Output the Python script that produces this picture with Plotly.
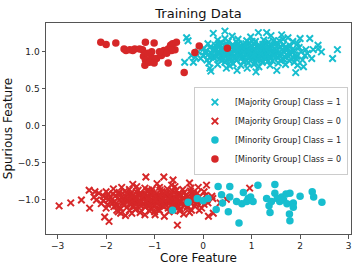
import plotly.graph_objects as go

# ---------------- data ----------------
majority_1 = [
    (0.12,0.85),(0.30,0.83),(0.45,0.86),(0.62,0.84),(0.78,0.82),(0.93,0.85),(1.05,0.83),(1.22,0.86),(1.38,0.82),(1.55,0.85),(1.70,0.83),(1.88,0.86),(0.55,0.81),(1.15,0.80),(1.95,0.82),
    (-0.05,0.91),(0.08,0.89),(0.22,0.92),(0.34,0.90),(0.47,0.88),(0.58,0.91),(0.69,0.89),(0.80,0.92),(0.90,0.88),(1.00,0.90),(1.10,0.92),(1.20,0.89),(1.31,0.91),(1.43,0.88),(1.55,0.92),(1.66,0.90),(1.78,0.88),(1.92,0.91),(2.05,0.89),
    (0.00,0.95),(0.10,0.96),(0.20,0.94),(0.29,0.97),(0.38,0.95),(0.46,0.93),(0.54,0.96),(0.62,0.94),(0.70,0.97),(0.77,0.95),(0.84,0.93),(0.91,0.96),(0.98,0.94),(1.05,0.97),(1.13,0.95),(1.21,0.93),(1.29,0.96),(1.38,0.94),(1.47,0.97),(1.57,0.95),(1.68,0.93),(1.80,0.96),(1.93,0.94),(2.10,0.95),
    (-0.10,1.00),(0.05,1.01),(0.15,0.99),(0.25,1.02),(0.34,1.00),(0.42,0.98),(0.50,1.01),(0.57,0.99),(0.64,1.02),(0.71,1.00),(0.78,0.98),(0.85,1.01),(0.92,0.99),(0.99,1.02),(1.06,1.00),(1.13,0.98),(1.20,1.01),(1.28,0.99),(1.36,1.02),(1.45,1.00),(1.55,0.98),(1.65,1.01),(1.76,0.99),(1.88,1.02),(2.02,1.00),(2.15,0.98),
    (0.02,1.05),(0.14,1.06),(0.24,1.04),(0.33,1.07),(0.42,1.05),(0.50,1.03),(0.58,1.06),(0.66,1.04),(0.74,1.07),(0.82,1.05),(0.89,1.03),(0.96,1.06),(1.04,1.04),(1.12,1.07),(1.20,1.05),(1.29,1.03),(1.38,1.06),(1.48,1.04),(1.59,1.07),(1.71,1.05),(1.84,1.03),(1.98,1.06),
    (0.10,1.11),(0.25,1.09),(0.38,1.12),(0.50,1.10),(0.62,1.08),(0.73,1.11),(0.84,1.09),(0.95,1.12),(1.06,1.10),(1.17,1.08),(1.28,1.11),(1.40,1.09),(1.53,1.12),(1.66,1.10),(1.80,1.08),(1.95,1.11),
    (0.30,1.16),(0.52,1.14),(0.72,1.17),(0.90,1.15),(1.08,1.14),(1.25,1.16),(1.45,1.15),(1.65,1.17),(1.85,1.14),
    (0.60,1.21),(0.98,1.20),(1.40,1.22),(1.75,1.19),
    (0.45,0.99),(0.52,1.04),(0.60,0.97),(0.67,1.03),(0.74,0.96),(0.81,1.02),(0.87,0.97),(0.94,1.03),(1.01,0.97),(1.08,1.03),(1.16,0.96),(1.24,1.04),
    (0.40,1.02),(0.55,0.92),(0.69,1.07),(0.86,1.08),(1.02,0.92),(1.17,1.02),(1.32,0.97),(1.50,1.02),(0.30,0.99),(0.20,1.03),(1.62,0.97),(1.72,1.02),
    (0.27,0.93),(0.36,1.04),(0.44,0.95),(0.48,1.08),(0.56,1.00),(0.61,1.10),(0.65,0.91),(0.72,1.03),(0.76,0.93),(0.80,1.07),
    (0.84,0.99),(0.88,1.11),(0.92,0.93),(0.97,1.00),(1.00,1.07),(1.04,0.95),(1.09,1.01),(1.11,0.89),(1.15,1.08),(1.19,0.97),
    (1.23,1.10),(1.27,0.92),(1.31,1.05),(1.35,0.99),(1.39,0.91),(1.42,1.07),(1.46,0.94),(1.52,1.08),(1.58,1.00),(1.63,0.91),
    (1.69,1.06),(1.74,0.95),(1.82,1.00),(1.90,0.96),(0.32,1.11),(0.16,0.93),(0.06,0.98),(0.40,0.89),(0.58,0.87),(0.83,0.87),
    (1.07,0.86),(1.33,0.87),(1.60,0.88),(1.86,0.92),(2.12,1.03),(0.69,1.13),(1.01,1.14),(1.35,1.13),(1.57,1.15),(0.45,1.18),
    (-0.34,1.19),(-0.31,1.15),(-0.38,0.86),(-0.20,0.86),(-0.24,0.95),(-0.16,0.93),(0.14,0.78),(0.16,0.74),(0.48,0.78),(0.45,1.28),
    (0.21,1.25),(0.70,0.75),(0.91,0.78),(1.09,0.73),(1.14,1.26),(1.31,1.26),(1.52,0.75),(1.62,1.23),(1.91,0.72),(2.20,1.18),
    (2.37,1.09),(2.44,1.00),(2.67,0.91),(2.77,1.03),(2.00,1.18),(2.24,0.91),(2.27,1.03),(2.37,1.04),(2.07,0.80),
]

majority_0 = [
    (-1.85,-0.85),(-1.68,-0.83),(-1.52,-0.86),(-1.37,-0.82),(-1.20,-0.84),(-1.05,-0.86),(-0.90,-0.83),(-0.74,-0.85),(-0.58,-0.82),(-0.42,-0.86),(-0.25,-0.84),(-0.10,-0.83),(-1.45,-0.79),(-0.95,-0.78),(-0.65,-0.80),
    (-2.15,-0.91),(-2.00,-0.89),(-1.86,-0.92),(-1.73,-0.90),(-1.61,-0.88),(-1.49,-0.91),(-1.38,-0.89),(-1.27,-0.92),(-1.16,-0.88),(-1.06,-0.90),(-0.96,-0.92),(-0.85,-0.89),(-0.74,-0.91),(-0.63,-0.88),(-0.51,-0.92),(-0.39,-0.90),(-0.26,-0.88),(-0.12,-0.91),(0.02,-0.89),
    (-2.05,-0.95),(-1.92,-0.96),(-1.80,-0.94),(-1.69,-0.97),(-1.59,-0.95),(-1.50,-0.93),(-1.41,-0.96),(-1.33,-0.94),(-1.25,-0.97),(-1.17,-0.95),(-1.09,-0.93),(-1.01,-0.96),(-0.93,-0.94),(-0.85,-0.97),(-0.77,-0.95),(-0.69,-0.93),(-0.60,-0.96),(-0.51,-0.94),(-0.41,-0.97),(-0.31,-0.95),(-0.20,-0.93),(-0.08,-0.96),(0.05,-0.94),(0.18,-0.95),
    (-2.20,-1.00),(-2.06,-1.01),(-1.94,-0.99),(-1.83,-1.02),(-1.73,-1.00),(-1.64,-0.98),(-1.55,-1.01),(-1.47,-0.99),(-1.39,-1.02),(-1.31,-1.00),(-1.23,-0.98),(-1.15,-1.01),(-1.07,-0.99),(-0.99,-1.02),(-0.91,-1.00),(-0.83,-0.98),(-0.75,-1.01),(-0.67,-0.99),(-0.58,-1.02),(-0.49,-1.00),(-0.39,-0.98),(-0.28,-1.01),(-0.17,-0.99),(-0.05,-1.02),(0.08,-1.00),(0.20,-0.98),
    (-2.10,-1.05),(-1.97,-1.06),(-1.86,-1.04),(-1.76,-1.07),(-1.66,-1.05),(-1.57,-1.03),(-1.48,-1.06),(-1.39,-1.04),(-1.30,-1.07),(-1.21,-1.05),(-1.13,-1.03),(-1.05,-1.06),(-0.96,-1.04),(-0.87,-1.07),(-0.78,-1.05),(-0.69,-1.03),(-0.59,-1.06),(-0.48,-1.04),(-0.37,-1.07),(-0.25,-1.05),(-0.12,-1.03),(0.02,-1.06),
    (-2.00,-1.11),(-1.84,-1.09),(-1.70,-1.12),(-1.57,-1.10),(-1.44,-1.08),(-1.32,-1.11),(-1.20,-1.09),(-1.08,-1.12),(-0.96,-1.10),(-0.84,-1.08),(-0.72,-1.11),(-0.60,-1.09),(-0.47,-1.12),(-0.33,-1.10),(-0.18,-1.08),(-0.03,-1.11),
    (-1.75,-1.16),(-1.52,-1.14),(-1.30,-1.17),(-1.10,-1.15),(-0.90,-1.14),(-0.70,-1.16),(-0.48,-1.15),(-0.28,-1.17),(-0.08,-1.14),
    (-1.60,-1.21),(-1.20,-1.20),(-0.80,-1.22),(-0.40,-1.19),
    (-1.40,-0.99),(-1.32,-1.04),(-1.25,-0.97),(-1.18,-1.03),(-1.11,-0.96),(-1.04,-1.02),(-0.97,-0.97),(-0.90,-1.03),(-0.83,-0.97),(-0.76,-1.03),(-0.69,-0.96),(-0.62,-1.04),
    (-1.45,-1.02),(-1.30,-0.92),(-1.16,-1.07),(-0.99,-1.08),(-0.83,-0.92),(-0.68,-1.02),(-0.53,-0.97),(-0.35,-1.02),(-1.55,-0.99),(-1.65,-1.03),(-0.22,-0.97),(-0.12,-1.02),
    (-1.73,-0.93),(-1.64,-1.07),(-1.58,-0.91),(-1.52,-1.05),(-1.46,-0.95),(-1.42,-1.09),(-1.36,-0.97),(-1.28,-1.03),(-1.22,-0.93),(-1.19,-1.10),
    (-1.13,-0.99),(-1.09,-1.07),(-1.03,-0.92),(-0.98,-1.00),(-0.94,-1.13),(-0.88,-0.95),(-0.86,-1.02),(-0.80,-1.09),(-0.77,-0.90),(-0.72,-0.99),
    (-0.66,-1.08),(-0.64,-0.92),(-0.56,-1.00),(-0.54,-1.10),(-0.46,-0.93),(-0.43,-1.05),(-0.36,-0.94),(-0.32,-1.08),(-0.24,-1.00),(-0.15,-1.06),
    (-1.90,-1.03),(-1.80,-1.08),(-2.00,-0.97),(-1.95,-0.92),(-1.12,-0.87),(-1.34,-0.87),(-0.89,-0.87),(-0.55,-0.87),(-1.00,-1.16),(-1.40,-1.13),
    (-0.62,-1.14),(-0.20,-0.90),(0.10,-1.04),(-2.25,-0.96),(-1.70,-1.18),
    (-2.97,-1.08),(-2.73,-1.04),(-2.51,-1.00),(-2.35,-0.87),(-2.23,-0.89),(-2.34,-1.11),(-2.03,-1.23),(-1.94,-1.29),(-1.18,-0.69),(-0.81,-0.69),
    (-0.62,-0.73),(-0.28,-0.77),(0.07,-0.80),(0.96,-0.84),(0.11,-1.22),(0.21,-1.18),(0.48,-0.99),(0.35,-1.04),(-0.53,-1.34),(-0.99,-1.20),
    (-0.24,-1.14),(-1.47,-1.18),(-1.78,-1.14),
]

minority_1 = [
    (-0.63,-1.14),(-0.31,-1.03),(-0.12,-0.98),(0.00,-1.01),(0.10,-0.98),(0.31,-0.82),(0.38,-0.93),(0.55,-0.82),(0.40,-1.04),(0.27,-1.13),
    (0.52,-1.16),(0.55,-0.96),(0.69,-1.02),(0.74,-1.31),(0.80,-1.05),(0.83,-0.90),(0.90,-1.02),(0.93,-0.98),(0.98,-0.96),(1.03,-1.02),
    (1.13,-0.80),(1.31,-0.98),(1.36,-1.08),(1.38,-1.17),(1.41,-1.02),(1.48,-0.91),(1.48,-0.79),(1.53,-0.98),(1.58,-1.02),(1.62,-0.96),
    (1.66,-1.00),(1.73,-1.05),(1.71,-0.92),(1.79,-0.91),(1.78,-1.19),(1.79,-1.28),(1.86,-1.04),(1.86,-1.10),(2.00,-0.95),(2.25,-0.89),
    (2.28,-0.96),(2.45,-1.03),
]

minority_0 = [
    (-2.11,1.13),(-2.00,1.10),(-1.80,1.12),(-1.63,1.04),(-1.59,1.02),(-1.51,1.03),(-1.41,1.04),(-1.45,1.02),(-1.19,1.13),(-1.25,1.03),
    (-1.23,0.94),(-1.19,0.89),(-1.20,0.82),(-1.06,0.92),(-1.01,1.12),(-1.06,1.00),(-1.11,0.86),(-1.01,0.85),(-0.96,0.91),(-0.86,0.95),
    (-0.81,1.02),(-0.72,0.85),(-0.79,1.00),(-0.72,1.04),(-0.67,1.09),(-0.63,1.11),(-0.58,1.03),(-0.55,1.13),(-0.65,1.02),(-0.75,0.98),
    (-0.39,0.72),(-0.17,0.99),(-0.08,1.08),(0.50,1.05),(-0.90,1.00),(-1.14,0.98),(-1.31,1.04),
]

series_names = [
    "[Majority Group] Class = 1",
    "[Majority Group] Class = 0",
    "[Minority Group] Class = 1",
    "[Minority Group] Class = 0",
]

CYAN = "#17becf"
RED = "#d62728"

fig = go.Figure()

def add(points, name, color, symbol):
    xs = [p[0] for p in points]
    ys = [p[1] for p in points]
    if symbol == "x":
        marker = dict(symbol="x-thin", size=6.5, color=color,
                      line=dict(color=color, width=2))
    else:
        marker = dict(symbol="circle", size=7.5, color=color, line=dict(width=0))
    fig.add_trace(go.Scatter(x=xs, y=ys, mode="markers", name=name, marker=marker))

add(majority_1, series_names[0], CYAN, "x")
add(majority_0, series_names[1], RED, "x")
add(minority_1, series_names[2], CYAN, "o")
add(minority_0, series_names[3], RED, "o")

axis_common = dict(
    showgrid=False, zeroline=False, automargin=False,
    showline=True, mirror=True, linecolor="#555555", linewidth=1,
    ticks="outside", ticklen=3.5, tickwidth=1, tickcolor="#555555",
    tickfont=dict(family="DejaVu Sans", size=9, color="#222222"),
)

fig.update_layout(
    width=360, height=270,
    margin=dict(l=46, r=9, t=23, b=36, autoexpand=False),
    paper_bgcolor="white", plot_bgcolor="white",
    title=dict(text="Training Data", x=0.5515, xanchor="center",
               yref="container", y=0.952, yanchor="middle", automargin=False,
               font=dict(family="DejaVu Sans", size=13, color="#111111")),
    xaxis=dict(range=[-3.24, 3.05], tickvals=[-3, -2, -1, 0, 1, 2, 3],
               ticktext=["\u22123", "\u22122", "\u22121", "0", "1", "2", "3"],
               title=dict(text="Core Feature", standoff=2,
                          font=dict(family="DejaVu Sans", size=12, color="#111111")),
               **axis_common),
    yaxis=dict(range=[-1.46, 1.39], tickvals=[-1.0, -0.5, 0.0, 0.5, 1.0],
               ticktext=["\u22121.0", "\u22120.5", "0.0", "0.5", "1.0"],
               title=dict(text="Spurious Feature", standoff=2,
                          font=dict(family="DejaVu Sans", size=12, color="#111111")),
               **axis_common),
    legend=dict(x=0.99, xanchor="right", y=0.49, yanchor="middle",
                bgcolor="rgba(255,255,255,0.85)", bordercolor="#cccccc", borderwidth=1,
                font=dict(family="DejaVu Sans", size=8, color="#222222"),
                itemwidth=30, tracegroupgap=0),
    showlegend=True,
)

fig.write_html("out.html",
               config={"displayModeBar": False, "staticPlot": True},
               post_script="document.body.style.margin='0';document.body.style.overflow='hidden';")
